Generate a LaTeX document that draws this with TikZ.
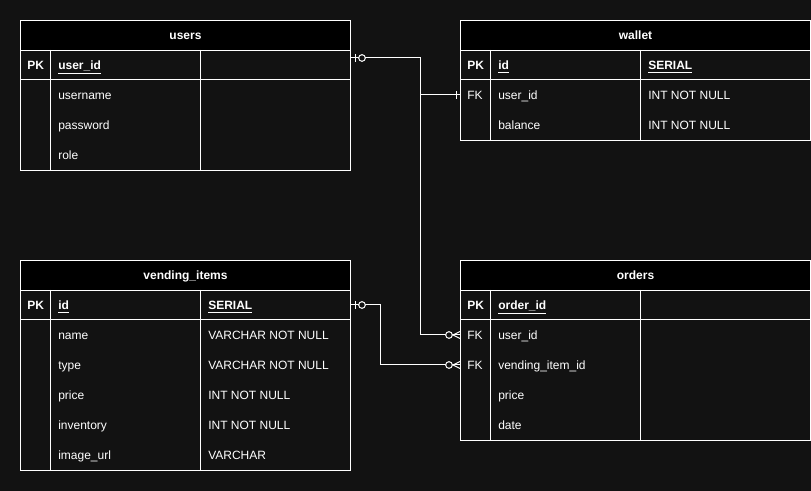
\documentclass[tikz,border=0pt]{standalone}
\usepackage{fontspec}
\setmainfont{Liberation Sans}
\definecolor{bg}{HTML}{121212}
\begin{document}
\begin{tikzpicture}[x=0.75pt,y=-0.75pt,
  tbl/.style={draw=white, line width=0.75pt, fill=bg, rectangle, inner sep=0pt, anchor=north west},
  hdr/.style={draw=white, line width=0.75pt, fill=black, text=white, font=\fontsize{9}{11}\selectfont\bfseries, inner sep=0pt, anchor=north west, minimum height=22.5pt, text height=5.6pt, text depth=0pt},
  tline/.style={draw=white, line width=0.75pt},
  txt/.style={text=white, anchor=west, inner sep=0pt, text height=6.45pt, text depth=0pt, font=\fontsize{9}{11}\selectfont},
  btxt/.style={txt, font=\fontsize{9}{11}\selectfont\bfseries},
  conn/.style={draw=white, line width=0.75pt},
  erm/.style={draw=white, line width=0.75pt},
  zcirc/.style={draw=white, fill=bg, line width=0.75pt, circle, inner sep=0pt, minimum size=5pt}
]
\useasboundingbox[fill=bg] (0,0) rectangle (811,491);

% ---------- users ----------
\node[tbl, minimum width=247.5pt, minimum height=112.5pt] (users) at (20,20) {};
\node[hdr, minimum width=247.5pt] (usersh) at (20,20) {users};
\draw[tline] (20,80) -- (350,80) (50,50) -- (50,170) (200,50) -- (200,170);
\node[btxt] (upk) at (27,65.5) {PK};
\node[btxt] (uid) at (58,65.5) {\underline{user\_id}};
\node[txt] (uname) at (58,95.5) {username};
\node[txt] (upass) at (58,125.5) {password};
\node[txt] (urole) at (58,155.5) {role};

% ---------- wallet ----------
\node[tbl, minimum width=262.5pt, minimum height=90pt] (wallet) at (460,20) {};
\node[hdr, minimum width=262.5pt] (walleth) at (460,20) {wallet};
\draw[tline] (460,80) -- (810,80) (490,50) -- (490,140) (640,50) -- (640,140);
\node[btxt] (wpk) at (467,65.5) {PK};
\node[btxt] (wid) at (498,65.5) {\underline{id}};
\node[btxt] (wser) at (648,65.5) {\underline{SERIAL}};
\node[txt] (wfk) at (467,95.5) {FK};
\node[txt] (wuid) at (498,95.5) {user\_id};
\node[txt] (wuidt) at (648,95.5) {INT NOT NULL};
\node[txt] (wbal) at (498,125.5) {balance};
\node[txt] (wbalt) at (648,125.5) {INT NOT NULL};

% ---------- vending_items ----------
\node[tbl, minimum width=247.5pt, minimum height=157.5pt] (vend) at (20,260) {};
\node[hdr, minimum width=247.5pt] (vendh) at (20,260) {vending\_items};
\draw[tline] (20,320) -- (350,320) (50,290) -- (50,470) (200,290) -- (200,470);
\node[btxt] (vpk) at (27,305.5) {PK};
\node[btxt] (vid) at (58,305.5) {\underline{id}};
\node[btxt] (vser) at (208,305.5) {\underline{SERIAL}};
\node[txt] (vname) at (58,335.5) {name};
\node[txt] (vnamet) at (208,335.5) {VARCHAR NOT NULL};
\node[txt] (vtype) at (58,365.5) {type};
\node[txt] (vtypet) at (208,365.5) {VARCHAR NOT NULL};
\node[txt] (vprice) at (58,395.5) {price};
\node[txt] (vpricet) at (208,395.5) {INT NOT NULL};
\node[txt] (vinv) at (58,425.5) {inventory};
\node[txt] (vinvt) at (208,425.5) {INT NOT NULL};
\node[txt] (vimg) at (58,455.5) {image\_url};
\node[txt] (vimgt) at (208,455.5) {VARCHAR};

% ---------- orders ----------
\node[tbl, minimum width=262.5pt, minimum height=135pt] (orders) at (460,260) {};
\node[hdr, minimum width=262.5pt] (ordersh) at (460,260) {orders};
\draw[tline] (460,320) -- (810,320) (490,290) -- (490,440) (640,290) -- (640,440);
\node[btxt] (opk) at (467,305.5) {PK};
\node[btxt] (oid) at (498,305.5) {\underline{order\_id}};
\node[txt] (ofk1) at (467,335.5) {FK};
\node[txt] (ouid) at (498,335.5) {user\_id};
\node[txt] (ofk2) at (467,365.5) {FK};
\node[txt] (ovid) at (498,365.5) {vending\_item\_id};
\node[txt] (oprice) at (498,395.5) {price};
\node[txt] (odate) at (498,425.5) {date};

% ---------- connection points ----------
\coordinate (uout) at (350,58);
\coordinate (win) at (460,95);
\coordinate (oin1) at (460,335);
\coordinate (vout) at (350,305);
\coordinate (oin2) at (460,365);

% ---------- connectors ----------
\draw[conn] (uout) -- (420,58) |- (win);
\draw[conn] (uout) -- (420,58) |- (oin1);
\draw[conn] (vout) -- (380,305) |- (oin2);

% ---------- markers ----------
\draw[erm] (355,54) -- (355,62);
\node[zcirc] (uc) at (362,58) {};
\draw[erm] (456,91) -- (456,99);
\draw[erm] (355,301) -- (355,309);
\node[zcirc] (vc) at (362,305) {};
\draw[erm] (453,335) -- (460,331.5) (453,335) -- (460,338.5);
\node[zcirc] (oc1) at (449,335) {};
\draw[erm] (453,365) -- (460,361.5) (453,365) -- (460,368.5);
\node[zcirc] (oc2) at (449,365) {};
\end{tikzpicture}
\end{document}
